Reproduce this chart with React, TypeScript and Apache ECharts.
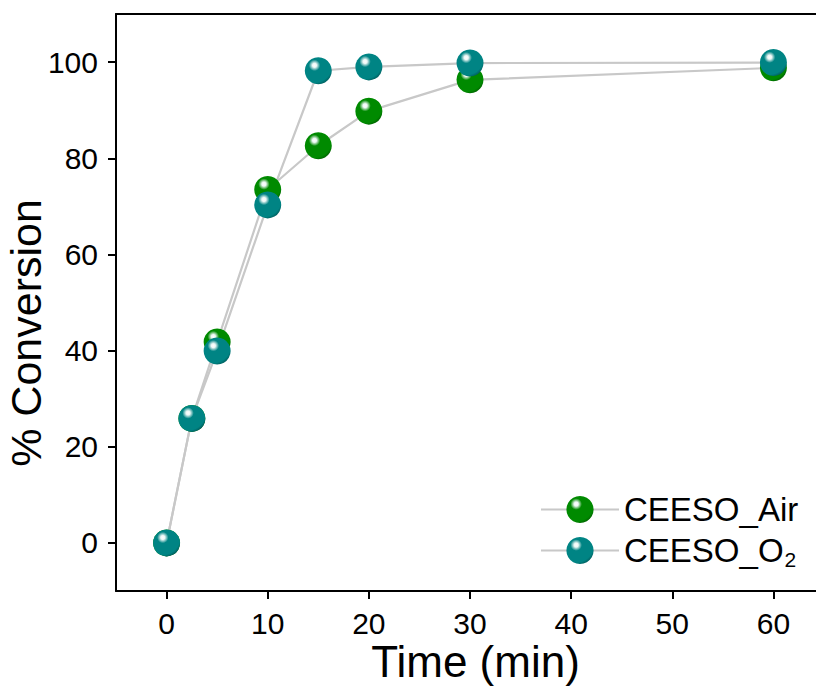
import React, { useEffect, useRef } from "react";
import * as echarts from "echarts";

const timeMin = [0, 2.5, 5, 10, 15, 20, 30, 60];
const airConversion = [0, 25.9, 41.8, 73.5, 82.6, 89.8, 96.3, 98.8];
const o2Conversion = [0, 25.9, 39.9, 70.3, 98.2, 99.0, 99.8, 99.9];
const xTicks = [0, 10, 20, 30, 40, 50, 60];
const yTicks = [0, 20, 40, 60, 80, 100];
const seriesNames = ["CEESO_Air", "CEESO_O2"];
const yTitle = "% Conversion";
const xTitle = "Time (min)";

const FONT = "'Liberation Sans', Arial, sans-serif";

function sphere(base: string, dark: string) {
  return new echarts.graphic.RadialGradient(0.36, 0.3, 0.75, [
    { offset: 0, color: "#ffffff" },
    { offset: 0.1, color: "#eef8f6" },
    { offset: 0.28, color: base },
    { offset: 0.85, color: base },
    { offset: 1, color: dark },
  ]);
}

export default function App() {
  const ref = useRef<HTMLDivElement>(null);
  useEffect(() => {
    if (!ref.current) return;
    const chart = echarts.init(ref.current, undefined, { renderer: "svg" });
    const mk = (name: string, xs: number[], ys: number[], base: string, dark: string) => ({
      name,
      type: "line",
      data: xs.map((x, i) => [x, ys[i]]),
      symbol: "circle",
      symbolSize: 27,
      showAllSymbol: true,
      lineStyle: { color: "#c8c8c8", width: 2.2 },
      itemStyle: { color: sphere(base, dark) },
      emphasis: { disabled: true },
      z: 2,
    });
    chart.setOption({
      animation: false,
      backgroundColor: "#ffffff",
      textStyle: { fontFamily: FONT },
      grid: { left: 116, top: 14, right: -8, bottom: 95, containLabel: false, outerBoundsMode: "none" },
      graphic: [
        {
          type: "text",
          x: 26,
          y: 333,
          rotation: Math.PI / 2,
          style: {
            text: yTitle,
            font: "43px " + FONT,
            fill: "#000",
            textAlign: "center",
            textVerticalAlign: "middle",
          },
        },
      ],
      legend: {
        left: 535,
        top: 488,
        orient: "vertical",
        itemWidth: 78,
        itemHeight: 34,
        itemGap: 8,
        data: seriesNames,
        textStyle: {
          fontSize: 33,
          color: "#000",
          fontFamily: FONT,
          padding: [0, 0, 0, 0],
          rich: {
            sub: { fontSize: 21, verticalAlign: "bottom", padding: [18, 0, 0, 1], fontFamily: FONT, color: "#000" },
            n: { fontSize: 33, fontFamily: FONT, color: "#000" },
          },
        },
        formatter: (name: string) => (name === "CEESO_O2" ? "{n|CEESO_O}{sub|2}" : "{n|" + name + "}"),
      },
      xAxis: [
        {
          type: "value",
          min: -5,
          max: 65,
          position: "bottom",
          name: xTitle,
          nameLocation: "middle",
          nameGap: 48,
          nameMoveOverlap: false,
          nameTextStyle: { fontSize: 44, color: "#000", fontFamily: FONT, padding: [0, 0, 0, 11] },
          axisLine: { show: true, onZero: false, lineStyle: { color: "#000", width: 2 } },
          axisTick: { show: true, inside: false, length: 8, lineStyle: { color: "#000", width: 2 }, customValues: xTicks },
          axisLabel: { fontSize: 30, color: "#000", margin: 17, fontFamily: FONT, customValues: xTicks },
          splitLine: { show: false },
        },
        {
          type: "value",
          min: -5,
          max: 65,
          position: "top",
          axisLine: { show: true, onZero: false, lineStyle: { color: "#000", width: 2 } },
          axisTick: { show: false },
          axisLabel: { show: false },
          splitLine: { show: false },
        },
      ],
      yAxis: {
        type: "value",
        min: -10,
        max: 110,
        interval: 20,
        axisLine: { show: true, onZero: false, lineStyle: { color: "#000", width: 2 } },
        axisTick: { show: true, inside: false, length: 8, lineStyle: { color: "#000", width: 2 }, customValues: yTicks },
        axisLabel: { fontSize: 30, color: "#000", margin: 18, fontFamily: FONT, customValues: yTicks },
        splitLine: { show: false },
      },
      series: [
        mk(seriesNames[0], timeMin, airConversion, "#008a00", "#005f00"),
        mk(seriesNames[1], timeMin, o2Conversion, "#008484", "#005c5c"),
      ],
    });
    return () => chart.dispose();
  }, []);
  return <div ref={ref} style={{ width: 816, height: 686, position: "absolute", left: 0, top: 0 }} />;
}
